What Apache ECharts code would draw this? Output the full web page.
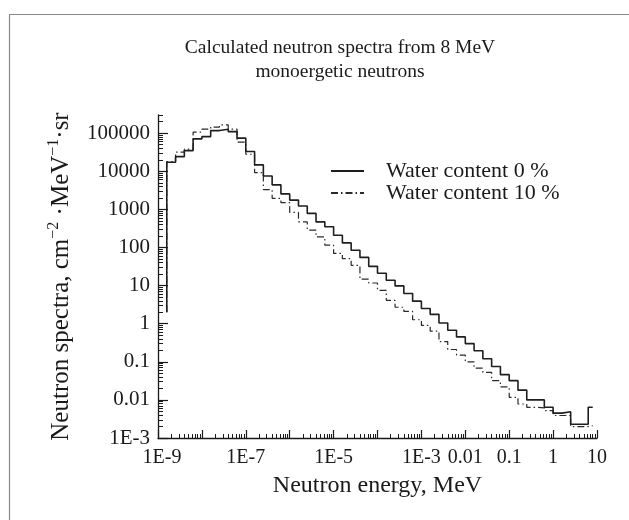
<!DOCTYPE html>
<html><head><meta charset="utf-8">
<script src="https://cdn.jsdelivr.net/npm/echarts@6/dist/echarts.min.js"></script>
<style>html,body{margin:0;padding:0;background:#fff}#c{width:629px;height:520px}</style>
</head><body><div id="c"></div>
<script>
// Bin edges (MeV), 5 bins per decade; last edge is the 8 MeV source energy
const energyEdges = [
  1.585e-9, 2.512e-9, 3.981e-9, 6.310e-9,
  1e-8, 1.585e-8, 2.512e-8, 3.981e-8, 6.310e-8,
  1e-7, 1.585e-7, 2.512e-7, 3.981e-7, 6.310e-7,
  1e-6, 1.585e-6, 2.512e-6, 3.981e-6, 6.310e-6,
  1e-5, 1.585e-5, 2.512e-5, 3.981e-5, 6.310e-5,
  1e-4, 1.585e-4, 2.512e-4, 3.981e-4, 6.310e-4,
  1e-3, 1.585e-3, 2.512e-3, 3.981e-3, 6.310e-3,
  0.01, 0.01585, 0.02512, 0.03981, 0.0631,
  0.1, 0.1585, 0.2512, 0.3981, 0.631,
  1, 1.585, 2.512, 3.981, 6.31,
  8.0
];
// Spectrum per bin, water content 0 %
const water0 = [
  17300, 24200, 34900, 70900, 81300, 117000, 127000, 110000, 74000, 33000,
  14700, 7500, 4400, 2550, 1750, 1230, 785, 470, 350, 210,
  132, 85, 55, 32, 21, 13.8, 9.8, 6.2, 3.9, 2.5,
  1.76, 1.04, 0.67, 0.45, 0.30, 0.195, 0.12, 0.075, 0.046, 0.032,
  0.018, 0.010, 0.010, 0.0064, 0.0045, 0.0049, 0.0023, 0.0023, 0.0064
];
// Spectrum per bin, water content 10 %
const water10 = [
  18000, 32000, 38000, 107000, 127000, 145000, 165000, 127000, 58000, 28000,
  9200, 3300, 1950, 1500, 830, 470, 285, 190, 115, 70,
  51, 34, 14.7, 11.7, 7.5, 4.1, 2.7, 2.1, 1.27, 0.90,
  0.64, 0.34, 0.21, 0.15, 0.10, 0.068, 0.053, 0.032, 0.022, 0.0117,
  0.0078, 0.0064, 0.0062, 0.0052, 0.0039, 0.0039, 0.0020, 0.0020, 0.0021
];
// Level where the first bin's left edge begins
const startLevels = [2, 2];
const seriesNames = ['Water content 0 %', 'Water content 10 %'];

const xTickValues = [1e-9, 1e-8, 1e-7, 1e-6, 1e-5, 1e-4, 1e-3, 0.01, 0.1, 1, 10];
const xTickLabels = ['1E-9', '', '1E-7', '', '1E-5', '', '1E-3', '0.01', '0.1', '1', '10'];
const yTickValues = [1e-3, 0.01, 0.1, 1, 10, 100, 1000, 10000, 100000];
const yTickLabels = ['1E-3', '0.01', '0.1', '1', '10', '100', '1000', '10000', '100000'];

const FONT = 'Liberation Serif';
const INK = '#1a1a1a';

function labelFor(values, labels, firstRich) {
  return function (v) {
    for (let i = 0; i < values.length; i++) {
      if (Math.abs(Math.log10(v) - Math.log10(values[i])) < 0.01) {
        if (firstRich && i === 0 && labels[i]) return '{f|' + labels[i] + '}';
        return labels[i];
      }
    }
    return '';
  };
}
function minorValues(lo, hi) {
  const out = [];
  for (let e = lo; e < hi; e++) for (let m = 2; m <= 9; m++) out.push(m * Math.pow(10, e));
  return out;
}
function stepData(vals, start) {
  const d = [[energyEdges[0], start]];
  vals.forEach((v, i) => d.push([energyEdges[i], v]));
  d.push([energyEdges[vals.length], vals[vals.length - 1]]);
  return d;
}

const X_MIN = 1e-9, X_MAX = 10, Y_MIN = 1e-3, Y_MAX = 3e5;
const xMinor = minorValues(-9, 1);
const yMinor = minorValues(-3, 6).filter(v => v <= Y_MAX);

const chart = echarts.init(document.getElementById('c'), null, { renderer: 'canvas' });
chart.setOption({
  animation: false,
  backgroundColor: '#fff',
  graphic: [{
    type: 'rect', left: 7, top: 12, shape: { width: 700, height: 600 },
    style: { fill: 'none', stroke: '#8a8a8a', lineWidth: 1.2 }, silent: true
  }],
  title: {
    text: 'Calculated neutron spectra from 8 MeV\nmonoergetic neutrons',
    left: 335, top: 31, textAlign: 'center',
    textStyle: { fontFamily: FONT, fontSize: 19.5, fontWeight: 'normal', color: INK, lineHeight: 24 }
  },
  legend: {
    orient: 'vertical', left: 330, top: 160, padding: 0, itemWidth: 33, itemHeight: 14, itemGap: 0,
    data: seriesNames,
    itemStyle: { opacity: 0 },
    textStyle: { fontFamily: FONT, fontSize: 22, color: INK, padding: [0, 0, 0, 17] }
  },
  grid: { left: 158, right: 32, top: 115, bottom: 82 },
  xAxis: [{
    type: 'log', logBase: 10, min: X_MIN, max: X_MAX, position: 'bottom',
    name: 'Neutron energy, MeV', nameLocation: 'middle', nameGap: 36,
    nameTextStyle: { fontFamily: FONT, fontSize: 24, color: INK },
    axisLine: { lineStyle: { color: INK, width: 1.3 } },
    axisTick: { inside: true, length: 8, customValues: xTickValues, lineStyle: { color: INK, width: 1.2 } },
    axisLabel: { customValues: xTickValues, formatter: labelFor(xTickValues, xTickLabels, true), margin: 10,
      fontFamily: FONT, fontSize: 20, color: INK,
      rich: { f: { fontFamily: FONT, fontSize: 20, color: INK, padding: [0, 0, 0, 8] } } },
    splitLine: { show: false }, minorTick: { show: false }
  }, {
    type: 'log', logBase: 10, min: X_MIN, max: X_MAX, position: 'bottom',
    axisLine: { show: false }, axisLabel: { show: false }, splitLine: { show: false },
    axisTick: { inside: true, length: 4, customValues: xMinor, lineStyle: { color: INK, width: 1 } }
  }],
  yAxis: [{
    type: 'log', logBase: 10, min: Y_MIN, max: Y_MAX, position: 'left',
    name: 'Neutron spectra, cm{s|−2} ·MeV{s|−1}·sr', nameLocation: 'middle', nameGap: 44, nameRotate: 90,
    nameTextStyle: { fontFamily: FONT, fontSize: 25, color: INK, lineHeight: 30,
      rich: { s: { fontFamily: FONT, fontSize: 16, color: INK, verticalAlign: 'top', lineHeight: 30 } } },
    axisLine: { show: true, lineStyle: { color: INK, width: 1.3 } },
    axisTick: { show: true, inside: true, length: 10, customValues: yTickValues, lineStyle: { color: INK, width: 1.2 } },
    axisLabel: { customValues: yTickValues, formatter: labelFor(yTickValues, yTickLabels, false), margin: 8,
      fontFamily: FONT, fontSize: 21, color: INK },
    splitLine: { show: false }, minorTick: { show: false }
  }, {
    type: 'log', logBase: 10, min: Y_MIN, max: Y_MAX, position: 'left',
    axisLine: { show: false }, axisLabel: { show: false }, splitLine: { show: false },
    axisTick: { show: true, inside: true, length: 5, customValues: yMinor, lineStyle: { color: INK, width: 1 } }
  }],
  series: [{
    name: seriesNames[0], type: 'line', step: 'end', symbol: 'none', showSymbol: false,
    xAxisIndex: 0, yAxisIndex: 0,
    data: stepData(water0, startLevels[0]),
    lineStyle: { color: '#1e1e1e', width: 1.6, type: 'solid' },
    itemStyle: { color: '#1e1e1e' }, z: 3
  }, {
    name: seriesNames[1], type: 'line', step: 'end', symbol: 'none', showSymbol: false,
    xAxisIndex: 0, yAxisIndex: 0,
    data: stepData(water10, startLevels[1]),
    lineStyle: { color: '#2a2a2a', width: 1.2, type: [7, 3, 1.5, 3] },
    itemStyle: { color: '#2a2a2a' }, z: 2
  }]
});
</script></body></html>
